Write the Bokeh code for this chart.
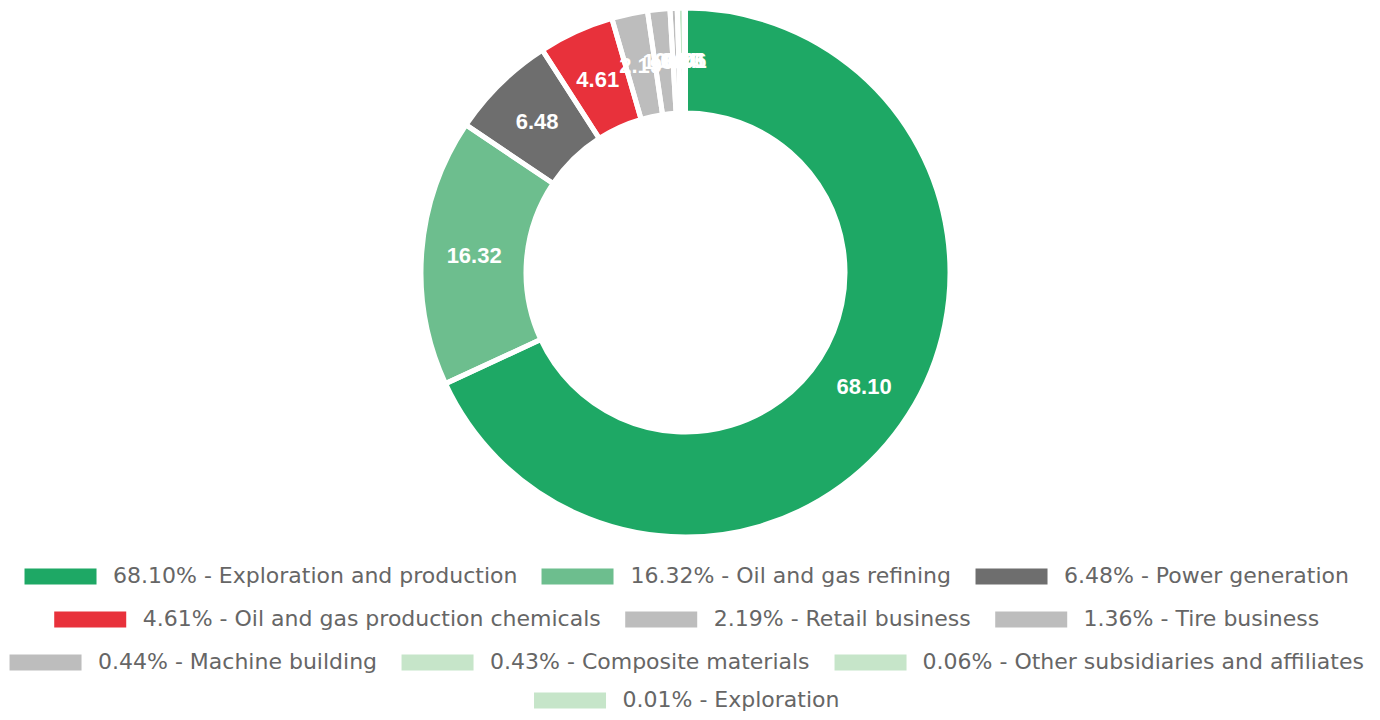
import numpy as np
from bokeh.plotting import figure
from bokeh.models import ColumnDataSource, Legend, LegendItem, Range1d
from bokeh.core.properties import value
from bokeh.embed import file_html
from bokeh.resources import INLINE

# ---- data ----
segments = [
    "Exploration and production",
    "Oil and gas refining",
    "Power generation",
    "Oil and gas production chemicals",
    "Retail business",
    "Tire business",
    "Machine building",
    "Composite materials",
    "Other subsidiaries and affiliates",
    "Exploration",
]
shares = [68.10, 16.32, 6.48, 4.61, 2.19, 1.36, 0.44, 0.43, 0.06, 0.01]
colors = [
    "#1EA865", "#6DBE8E", "#6E6E6E", "#E8313B", "#BDBDBD",
    "#BDBDBD", "#BDBDBD", "#C6E5C9", "#C6E5C9", "#C6E5C9",
]
legend_rows = [[0, 1, 2], [3, 4, 5], [6, 7, 8], [9]]

# ---- layout (pixels) ----
W, H = 1364, 712
CX, CY = 685, H - 272
GAP = 5
R_OUT = 262 + GAP / 2
R_IN = 162 - GAP / 2

vals = np.array(shares)
frac = vals / vals.sum()
cum = np.concatenate([[0.0], np.cumsum(frac)])
a0 = cum[:-1] * 2 * np.pi          # clockwise from 12 o'clock
a1 = cum[1:] * 2 * np.pi
start = np.pi / 2 - a1
end = np.pi / 2 - a0
mid = (a0 + a1) / 2
r_mid = (R_OUT + R_IN) / 2

src = ColumnDataSource(dict(
    start=start, end=end, color=colors,
    lx=CX + r_mid * np.sin(mid), ly=CY + r_mid * np.cos(mid),
    lab=[f"{v:.2f}" for v in shares],
))

p = figure(width=W, height=H, x_range=Range1d(0, W), y_range=Range1d(0, H),
           output_backend="svg", toolbar_location=None, min_border=0,
           x_axis_location=None, y_axis_location=None)
p.grid.visible = False
p.outline_line_color = None
p.background_fill_color = "white"

wedges = p.annular_wedge(x=CX, y=CY, inner_radius=R_IN, outer_radius=R_OUT,
                         start_angle="start", end_angle="end", source=src,
                         fill_color="color", line_color=None)
p.annular_wedge(x=CX, y=CY, inner_radius=R_IN, outer_radius=R_OUT,
                start_angle="start", end_angle="end", source=src,
                fill_color=None, line_color="white", line_width=GAP)

p.text(x="lx", y="ly", text="lab", source=src, text_color="white",
       text_font=value("Liberation Sans"), text_font_style="bold",
       text_font_size="22px", text_align="center", text_baseline="middle")

margins = [124, 81, 38, 0]
for row, m in zip(legend_rows, margins):
    items = [LegendItem(label=f"{shares[i]:.2f}% - {segments[i]}",
                        renderers=[wedges], index=i) for i in row]
    leg = Legend(items=items, location="bottom_center", orientation="horizontal",
                 glyph_width=90, glyph_height=20, label_standoff=8, spacing=15,
                 padding=0, margin=m, border_line_color=None,
                 background_fill_alpha=0,
                 label_text_font="DejaVu Sans", label_text_font_size="22px",
                 label_text_color="#666666")
    p.add_layout(leg)

open("out.html", "w").write(file_html(p, INLINE))
